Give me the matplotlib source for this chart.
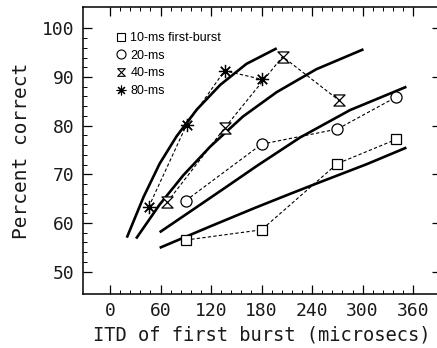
import numpy as np
import matplotlib
matplotlib.use("Agg")
import matplotlib.pyplot as plt
from matplotlib.path import Path
from matplotlib.lines import Line2D
from matplotlib.ticker import FixedLocator

# ================= DATA =================
itd_10 = [90, 180, 270, 340]
pc_10 = [56.5, 58.6, 72.2, 77.2]
itd_20 = [90, 180, 270, 340]
pc_20 = [64.6, 76.2, 79.3, 85.9]
itd_40 = [68, 136, 205, 272]
pc_40 = [64.3, 79.5, 94.2, 85.2]
itd_80 = [46, 91, 136, 181]
pc_80 = [63.3, 80.2, 91.3, 89.5]

# fitted curves
fit80_x = [20, 40, 59, 79, 103, 131, 162, 198]
fit80_y = [57.0, 65.4, 72.2, 77.8, 83.3, 88.4, 92.7, 95.9]
fit40_x = [31, 59, 87, 119, 158, 198, 245, 301]
fit40_y = [56.8, 63.8, 69.8, 75.7, 81.9, 86.9, 91.6, 95.7]
fit20_x = [59, 99, 138, 175, 226, 285, 352]
fit20_y = [58.1, 62.8, 67.4, 71.8, 77.6, 83.2, 88.0]
fit10_x = [59, 119, 172, 214, 245, 305, 352]
fit10_y = [54.9, 59.3, 63.1, 66.0, 68.1, 72.1, 75.5]

labels = ["10-ms first-burst", "20-ms", "40-ms", "80-ms"]
# ========================================

hourglass = Path([(-1, 1), (1, 1), (-1, -1), (1, -1), (-1, 1)],
                 [Path.MOVETO, Path.LINETO, Path.LINETO, Path.LINETO, Path.CLOSEPOLY])

fig = plt.figure(figsize=(4.37, 3.48), dpi=100)
ax = fig.add_axes([0.190, 0.155, 0.819, 0.825])

for fx, fy in [(fit80_x, fit80_y), (fit40_x, fit40_y), (fit20_x, fit20_y), (fit10_x, fit10_y)]:
    ax.plot(fx, fy, color="black", lw=1.9, solid_capstyle="butt",
            solid_joinstyle="round", zorder=2)

dash = dict(color="black", lw=0.8, ls=(0, (3, 2)), zorder=3)
mk = dict(mfc="white", mec="black", mew=0.9, zorder=4)
ax.plot(itd_10, pc_10, **dash)
ax.plot(itd_10, pc_10, ls="none", marker="s", ms=7.5, **mk)
ax.plot(itd_20, pc_20, **dash)
ax.plot(itd_20, pc_20, ls="none", marker="o", ms=8, **mk)
ax.plot(itd_40, pc_40, **dash)
ax.plot(itd_40, pc_40, ls="none", marker=hourglass, ms=8, **mk)
ax.plot(itd_80, pc_80, **dash)
ax.plot(itd_80, pc_80, ls="none", marker=(8, 2, 0), ms=9.5, mec="black", mew=0.9, zorder=4)

ax.set_xlim(-32, 393)
ax.set_ylim(45.4, 104.4)

ax.xaxis.set_major_locator(FixedLocator(np.arange(0, 361, 60)))
ax.xaxis.set_minor_locator(FixedLocator(np.arange(0, 361, 12)))
ax.yaxis.set_major_locator(FixedLocator(np.arange(50, 101, 10)))
ax.yaxis.set_minor_locator(FixedLocator(np.arange(50, 101, 2)))
ax.tick_params(which="both", direction="in", top=True, right=True, color="black")
ax.tick_params(which="major", length=6.5, width=0.9, pad=6, labelsize=13)
ax.tick_params(which="minor", length=3.2, width=0.7)
for lab in ax.get_xticklabels() + ax.get_yticklabels():
    lab.set_family("DejaVu Sans Mono")
    lab.set_color("#1a1a1a")
for s in ax.spines.values():
    s.set_linewidth(1.1)

ax.set_xlabel("ITD of first burst (microsecs)", family="DejaVu Sans Mono",
              fontsize=13.5, labelpad=4, color="#1a1a1a")
ax.set_ylabel("Percent correct", family="DejaVu Sans Mono", fontsize=14,
              labelpad=8, color="#1a1a1a")

handles = [
    Line2D([], [], ls="none", marker="s", ms=6, mfc="white", mec="black", mew=0.8),
    Line2D([], [], ls="none", marker="o", ms=6.5, mfc="white", mec="black", mew=0.8),
    Line2D([], [], ls="none", marker=hourglass, ms=5.5, mfc="white", mec="black", mew=0.8),
    Line2D([], [], ls="none", marker=(8, 2, 0), ms=7, mec="black", mew=0.8),
]
ax.legend(handles, labels, loc="upper left", bbox_to_anchor=(0.092, 0.913), frameon=False,
          prop={"family": "Liberation Sans", "size": 9}, handlelength=0.8,
          handletextpad=0.35, labelspacing=0.46, borderpad=0, borderaxespad=0)

fig.savefig("out.png", dpi=100)
